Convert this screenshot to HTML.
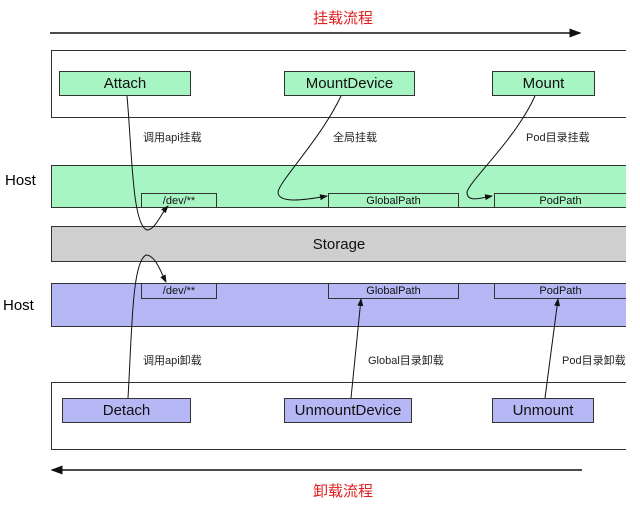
<!DOCTYPE html>
<html><head><meta charset="utf-8"><style>
html,body{margin:0;padding:0;background:#fff;}
body{width:640px;height:507px;position:relative;overflow:hidden;font-family:"Liberation Sans","Noto Sans CJK SC",sans-serif;}
.a{position:absolute;box-sizing:border-box;}
.n{border:1px solid #333;display:flex;align-items:center;justify-content:center;color:#111;font-size:15px;}
.g{background:#a8f5c4;}
.p{background:#b6b8f6;}
.s{font-size:11px;}
.lbl{position:absolute;font-size:11px;color:#222;white-space:nowrap;}
.red{position:absolute;color:#e02020;font-size:15px;}
</style></head><body>
<div class="red" style="left:313px;top:7px;">挂载流程</div>
<div class="red" style="left:313px;top:480px;">卸载流程</div>

<div class="a" style="left:51px;top:50px;width:575px;height:68px;border:1px solid #333;border-right:none;background:#fff"></div>
<div class="a n g" style="left:59px;top:71px;width:132px;height:25px;">Attach</div>
<div class="a n g" style="left:284px;top:71px;width:131px;height:25px;">MountDevice</div>
<div class="a n g" style="left:492px;top:71px;width:103px;height:25px;">Mount</div>

<div class="lbl" style="left:143px;top:129px;">调用api挂载</div>
<div class="lbl" style="left:333px;top:129px;">全局挂载</div>
<div class="lbl" style="left:526px;top:129px;">Pod目录挂载</div>

<div style="position:absolute;left:5px;top:172px;font-size:15px;">Host</div>
<div class="a g" style="left:51px;top:165px;width:575px;height:43px;border:1px solid #333;border-right:none"></div>
<div class="a n g s" style="left:141px;top:193px;width:76px;height:15px;">/dev/**</div>
<div class="a n g s" style="left:328px;top:193px;width:131px;height:15px;">GlobalPath</div>
<div class="a n g s" style="left:494px;top:193px;width:132px;height:15px;border-right:none">PodPath</div>

<div class="a n" style="left:51px;top:226px;width:575px;height:36px;background:#cfcfcf;border-right:none;font-size:15px;">Storage</div>

<div style="position:absolute;left:3px;top:297px;font-size:15px;">Host</div>
<div class="a p" style="left:51px;top:283px;width:575px;height:44px;border:1px solid #333;border-right:none"></div>
<div class="a n p s" style="left:141px;top:283px;width:76px;height:16px;">/dev/**</div>
<div class="a n p s" style="left:328px;top:283px;width:131px;height:16px;">GlobalPath</div>
<div class="a n p s" style="left:494px;top:283px;width:132px;height:16px;border-right:none">PodPath</div>

<div class="lbl" style="left:143px;top:352px;">调用api卸载</div>
<div class="lbl" style="left:368px;top:352px;">Global目录卸载</div>
<div class="lbl" style="left:562px;top:352px;">Pod目录卸载</div>

<div class="a" style="left:51px;top:382px;width:575px;height:68px;border:1px solid #333;border-right:none;background:#fff"></div>
<div class="a n p" style="left:62px;top:398px;width:129px;height:25px;">Detach</div>
<div class="a n p" style="left:284px;top:398px;width:128px;height:25px;">UnmountDevice</div>
<div class="a n p" style="left:492px;top:398px;width:102px;height:25px;">Unmount</div>

<svg class="a" style="left:0;top:0" width="640" height="507">
<defs><marker id="m" markerWidth="8" markerHeight="6" refX="7" refY="3" orient="auto"><path d="M0,0 L8,3 L0,6 z" fill="#111"/></marker></defs>
<g stroke="#111" stroke-width="1" fill="none">
<line x1="50" y1="33" x2="580" y2="33" stroke-width="1.5" marker-end="url(#m)"/>
<line x1="582" y1="470" x2="52" y2="470" stroke-width="1.5" marker-end="url(#m)"/>
<path d="M127,96 C132,150 132,225 147,230 C155,230 160,215 168,206" marker-end="url(#m)"/>
<path d="M128,398 C132,330 132,262 146,255 C155,255 160,270 166,282" marker-end="url(#m)"/>
<path d="M341,96 C320,140 280,180 278,192 C278,204 305,200 327,196" marker-end="url(#m)"/>
<path d="M535,96 C515,140 470,180 467,192 C467,203 480,198 492,196" marker-end="url(#m)"/>
<line x1="351" y1="398" x2="361" y2="299" marker-end="url(#m)"/>
<line x1="545" y1="398" x2="558" y2="299" marker-end="url(#m)"/>
</g></svg>
</body></html>
